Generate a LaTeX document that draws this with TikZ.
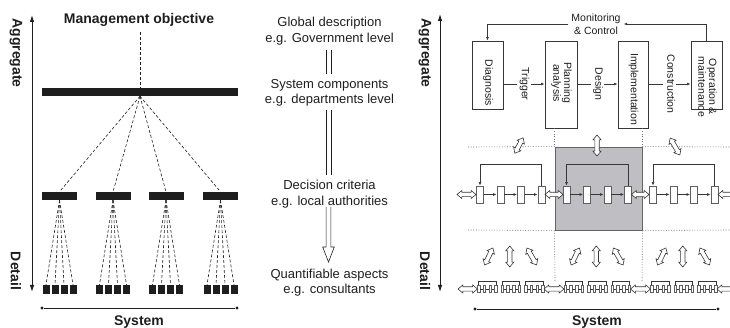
\documentclass[tikz,border=0pt]{standalone}
\usepackage{fontspec}
\setmainfont{Liberation Sans}
\usepackage{graphicx}
\usetikzlibrary{arrows.meta,shapes.arrows}

\definecolor{ink}{RGB}{30,30,30}
\definecolor{linegrey}{RGB}{55,55,55}
\definecolor{cellgrey}{RGB}{95,95,95}
\definecolor{panelgrey}{RGB}{191,191,195}
\definecolor{paneledge}{RGB}{100,100,100}
\definecolor{dotgrey}{RGB}{110,110,110}

% text set sideways, reading top to bottom
\newcommand{\sidetext}[1]{\rotatebox{-90}{\renewcommand{\arraystretch}{0.92}\begin{tabular}{@{}c@{}}#1\end{tabular}}}

\tikzset{
  axislabel/.style={font=\fontsize{14}{16}\selectfont\bfseries, inner sep=0pt, text=ink},
  midline/.style={font=\fontsize{13}{15.6}\selectfont, anchor=base, inner sep=0pt, text=ink},
  boxtext/.style={font=\fontsize{10.5}{11.5}\selectfont, text=ink},
  axisarrow/.style={draw=ink, line width=0.9pt, {Latex[length=7pt,width=4.5pt]}-{Latex[length=7pt,width=4.5pt]}},
  endpoint/.style={circle, fill=ink, inner sep=0pt, minimum size=3.4pt},
  sysline/.style={draw=ink, line width=0.9pt},
  bar/.style={fill=ink, inner sep=0pt},
  fanline/.style={draw=ink, line width=0.6pt, dash pattern=on 3pt off 2pt},
  pipeline/.style={draw=ink, line width=0.6pt},
  procbox/.style={draw=linegrey, line width=0.9pt, fill=white, inner sep=0pt},
  flow/.style={draw=linegrey, line width=0.6pt, -{Latex[length=3.5pt,width=2.8pt]}},
  thinline/.style={draw=linegrey, line width=0.6pt},
  steplabel/.style={boxtext, inner xsep=1pt, inner ysep=0pt},
  cell/.style={draw=cellgrey, fill=white, line width=0.8pt, inner sep=0pt, minimum width=7pt, minimum height=17pt},
  minicell/.style={draw=cellgrey, fill=white, line width=0.5pt, inner sep=0pt, minimum width=2.4pt, minimum height=7pt},
  guide/.style={draw=dotgrey, line width=0.6pt, dash pattern=on 1pt off 1.6pt},
  focusbox/.style={draw=paneledge, fill=panelgrey, line width=0.9pt, inner sep=0pt},
  fatarrow/.style={double arrow, draw=linegrey, fill=white, line width=0.6pt, inner xsep=0pt, inner ysep=1.9pt,
    double arrow head extend=1.9pt, double arrow tip angle=80, double arrow head indent=0pt},
}

\begin{document}
\begin{tikzpicture}[x=1pt,y=-1pt]
\useasboundingbox (0,0) rectangle (730,328);

% ================= left: management hierarchy =================
\coordinate (lax top) at (32,15);
\coordinate (lax bot) at (32,292);
\draw[axisarrow] (lax top) -- (lax bot);
\node[axislabel, rotate=-90] (lagg) at (16,53) {Aggregate};
\node[axislabel, rotate=-90] (ldet) at (16,271) {Detail};

\node[axislabel, anchor=base] (mgmt) at (139,24) {Management objective};
\coordinate (mgmt foot) at (140,32);
\node[bar, minimum width=196pt, minimum height=8pt] (topbar) at (140,92) {};
\draw[fanline] (mgmt foot) -- (topbar.north);

\foreach \i/\cx in {1/59.5,2/113,3/166,4/220.5} {
  \node[bar, minimum width=35pt, minimum height=8pt] (sub\i) at (\cx,196) {};
  \draw[fanline] (topbar.south) -- (sub\i.north);
  \foreach \j/\dx in {1/-13.5,2/-4.5,3/4.5,4/13.5} {
    \node[bar, minimum width=7pt, minimum height=9pt] (leaf\i\j) at ({\cx+(\dx)},289.5) {};
    \draw[fanline] (sub\i.south) -- (leaf\i\j.north);
  }
}

\node[endpoint] (lsys a) at (42,308) {};
\node[endpoint] (lsys b) at (237,308) {};
\draw[sysline] (lsys a) -- (lsys b);
\node[axislabel, anchor=base] (lsys) at (139,325.5) {System};

% ================= middle: levels of description =================
\node[midline] (gd1) at (329.5,26.7) {Global description};
\node[midline] (gd2) at (329.5,42.3) {e.g. Government level};
\node[midline] (sc1) at (329.5,88.3) {System components};
\node[midline] (sc2) at (329.5,103.6) {e.g. departments level};
\node[midline] (dc1) at (329.5,190) {Decision criteria};
\node[midline] (dc2) at (329.5,205.7) {e.g. local authorities};
\node[midline] (qa1) at (329.5,278.3) {Quantifiable aspects};
\node[midline] (qa2) at (329.5,293.9) {e.g. consultants};

% two-line links between the levels
\foreach \s in {-2.35,2.35} {
  \draw[pipeline, shorten <=5pt, shorten >=4.7pt] ([xshift=\s pt-1pt]gd2.south) -- ([xshift=\s pt-1pt]sc1.north);
  \draw[pipeline, shorten <=4pt, shorten >=5.7pt] ([xshift=\s pt-1pt]sc2.south) -- ([xshift=\s pt-1pt]dc1.north);
}
\coordinate (tipL) at (322.7,247);
\coordinate (tipR) at (334.3,247);
\coordinate (tip)  at (328.5,262);
\draw[pipeline, line join=miter] ([xshift=-3.35pt,yshift=1.6pt]dc2.south) |- (tipL) -- (tip) -- (tipR) -| ([xshift=1.35pt,yshift=1.6pt]dc2.south);

% ================= right: project cycle and nested systems =================
\coordinate (rax top) at (440,14);
\coordinate (rax bot) at (440,292);
\draw[axisarrow] (rax top) -- (rax bot);
\node[axislabel, rotate=-90] (ragg) at (425,53) {Aggregate};
\node[axislabel, rotate=-90] (rdet) at (425,271) {Detail};

% project cycle
\node[procbox, minimum width=31pt, minimum height=68pt] (diag) at (487.5,75) {};
\node[procbox, minimum width=32pt, minimum height=87pt] (plan) at (561,84.5) {};
\node[procbox, minimum width=30pt, minimum height=87pt] (impl) at (633,84.5) {};
\node[procbox, minimum width=31pt, minimum height=68pt] (oper) at (706.5,75) {};
\node[boxtext, inner sep=0pt] (diagtext) at (487.5,83) {\sidetext{Diagnosis}};
\node[boxtext, inner sep=0pt] (plantext) at (561,83) {\sidetext{Planning\\analysis}};
\node[boxtext, inner sep=0pt] (impltext) at (633,89) {\sidetext{Implementation}};
\node[boxtext, inner sep=0pt] (opertext) at (706,87) {\sidetext{Operation \&\\maintenance}};

\node[steplabel] (trig) at (524,84) {\sidetext{Trigger}};
\node[steplabel] (desg) at (597.5,84) {\sidetext{Design}};
\node[steplabel] (cons) at (669.5,84) {\sidetext{Construction}};
\draw[thinline] (diag.east |- trig) -- (trig.west);
\draw[flow] (trig.east) -- (plan.west |- trig);
\draw[thinline] (plan.east |- desg) -- (desg.west);
\draw[flow] (desg.east) -- (impl.west |- desg);
\draw[thinline] (impl.east |- cons) -- (cons.west);
\draw[flow] (cons.east) -- (oper.west |- cons);

\node[font=\fontsize{10.5}{13}\selectfont, text=ink, align=center, inner xsep=3pt, inner ysep=0pt] (mon) at (596,24) {Monitoring\\\& Control};
\draw[flow] (oper.north) |- (mon.east);
\draw[flow] (mon.west) -| (diag.north);

% focus region of the system
\node[focusbox, minimum width=87pt, minimum height=83pt] (focus) at (598.5,188.5) {};
\coordinate (gl top) at (468,147);
\coordinate (gr top) at (731,147);
\coordinate (gl bot) at (468,230);
\coordinate (gr bot) at (731,230);
\coordinate (fl end) at (555,282);
\coordinate (fr end) at (642,282);
\draw[guide] (gl top) -- (focus.north west);
\draw[guide] (focus.north east) -- (gr top);
\draw[guide] (gl bot) -- (focus.south west);
\draw[guide] (focus.south east) -- (gr bot);
\draw[guide] (plan.south -| focus.west) -- (focus.north west);
\draw[guide] (impl.south -| focus.east) -- (focus.north east);
\draw[guide] (focus.south west) -- (fl end);
\draw[guide] (focus.south east) -- (fr end);

% component chains
\foreach \g/\cx in {1/510.75,2/597.25,3/683.75} {
  \foreach \k/\dx in {1/-30.75,2/-10.25,3/10.25,4/30.75}
    \node[cell] (c\g\k) at ({\cx+(\dx)},194.5) {};
  \draw[flow] (c\g1) -- (c\g2);
  \draw[flow] (c\g2) -- (c\g3);
  \draw[flow] (c\g3) -- (c\g4);
  \draw[flow] (c\g4.north) -- ++(0,-21) -| (c\g1.north);
  % miniature chains on the detailed level
  \foreach \m/\mx in {1/-23.5,2/0,3/23.5} {
    \foreach \k/\dx in {1/-8.55,2/-2.85,3/2.85,4/8.55}
      \node[minicell] (m\g\m\k) at ({\cx+(\mx)+(\dx)},289) {};
    \draw[thinline, line width=0.45pt] (m\g\m1) -- (m\g\m2);
    \draw[thinline, line width=0.45pt] (m\g\m2) -- (m\g\m3);
    \draw[thinline, line width=0.45pt] (m\g\m3) -- (m\g\m4);
    \draw[thinline, line width=0.45pt] (m\g\m4.north) -- ++(0,-4.5) -| (m\g\m1.north);
  }
  % exchanges between levels
  \node[fatarrow, minimum height=19pt, rotate=64] (up\g a) at ({\cx-22},256.5) {};
  \node[fatarrow, minimum height=21pt, rotate=90] (up\g b) at ({\cx-1},256.5) {};
  \node[fatarrow, minimum height=19.5pt, rotate=-60] (up\g c) at ({\cx+21},256.5) {};
}

% exchanges between neighbouring systems
\node[fatarrow, minimum height=19pt] (xl) at (466.5,194.5) {};
\node[fatarrow, minimum height=18pt] (x12) at (554,194.5) {};
\node[fatarrow, minimum height=17.5pt] (x23) at (640.25,194.5) {};
\node[fatarrow, minimum height=19pt] (xr) at (727.5,194.5) {};
\node[fatarrow, minimum height=19.5pt] (yl) at (467.75,289) {};
\node[fatarrow, minimum height=20pt] (y12) at (554,289) {};
\node[fatarrow, minimum height=20pt] (y23) at (640.5,289) {};
\node[fatarrow, minimum height=20pt] (yr) at (727,289) {};

% exchanges with the project cycle
\node[fatarrow, minimum height=17.5pt, rotate=62] (tl) at (519,145.5) {};
\node[fatarrow, minimum height=21pt, rotate=90] (tm) at (597,145.5) {};
\node[fatarrow, minimum height=19.5pt, rotate=-60] (tr) at (675,146.5) {};

\node[endpoint] (rsys a) at (475,309) {};
\node[endpoint] (rsys b) at (718,309) {};
\draw[sysline] (rsys a) -- (rsys b);
\node[axislabel, anchor=base] (rsys) at (597,325.5) {System};
\end{tikzpicture}
\end{document}
